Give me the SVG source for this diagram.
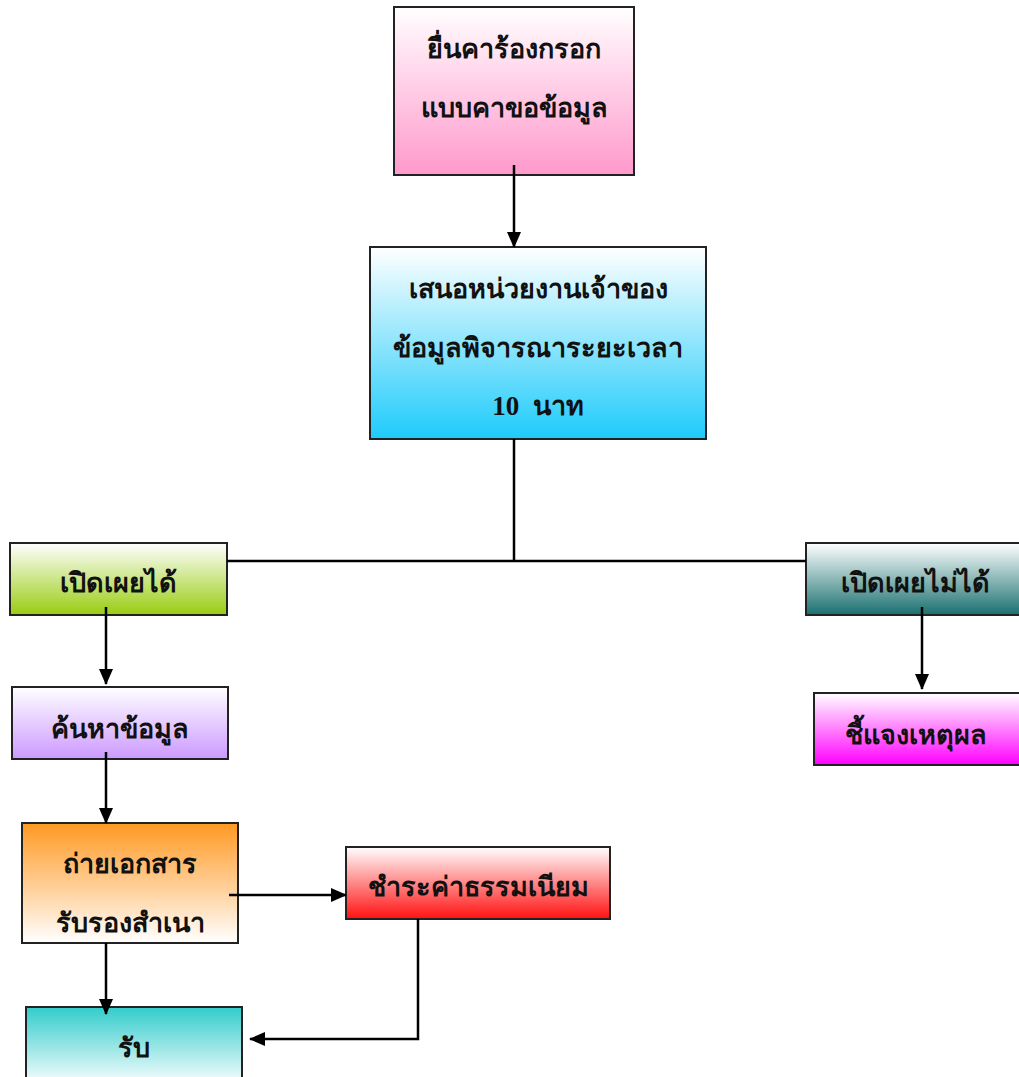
<svg xmlns="http://www.w3.org/2000/svg" width="1019" height="1077" viewBox="0 0 1019 1077">
<defs>
<linearGradient id="gPink" x1="0" y1="0" x2="0" y2="1"><stop offset="0" stop-color="#ffffff"/><stop offset="1" stop-color="#ff99cc"/></linearGradient>
<linearGradient id="gBlue" x1="0" y1="0" x2="0" y2="1"><stop offset="0" stop-color="#ffffff"/><stop offset="1" stop-color="#1ecbfb"/></linearGradient>
<linearGradient id="gGreen" x1="0" y1="0" x2="0" y2="1"><stop offset="0" stop-color="#ffffff"/><stop offset="1" stop-color="#99cc11"/></linearGradient>
<linearGradient id="gTeal" x1="0" y1="0" x2="0" y2="1"><stop offset="0" stop-color="#ffffff"/><stop offset="1" stop-color="#1a7070"/></linearGradient>
<linearGradient id="gPurple" x1="0" y1="0" x2="0" y2="1"><stop offset="0" stop-color="#ffffff"/><stop offset="1" stop-color="#cc99ff"/></linearGradient>
<linearGradient id="gOrange" x1="0" y1="0" x2="0" y2="1"><stop offset="0" stop-color="#ff9922"/><stop offset="1" stop-color="#ffffff"/></linearGradient>
<linearGradient id="gRed" x1="0" y1="0" x2="0" y2="1"><stop offset="0" stop-color="#ffffff"/><stop offset="1" stop-color="#ff1111"/></linearGradient>
<linearGradient id="gCyan" x1="0" y1="0" x2="0" y2="1"><stop offset="0" stop-color="#33cccc"/><stop offset="1" stop-color="#ffffff"/></linearGradient>
<linearGradient id="gMagenta" x1="0" y1="0" x2="0" y2="1"><stop offset="0" stop-color="#ffffff"/><stop offset="1" stop-color="#ff00ff"/></linearGradient>
<marker id="arr" markerWidth="16" markerHeight="14" refX="15" refY="7" orient="auto" markerUnits="userSpaceOnUse" viewBox="0 0 16 14">
<path d="M0,0 L16,7 L0,14 Z" fill="#000"/>
</marker>
</defs>
<style>
.box{stroke:#222;stroke-width:2}
.t{font-family:"Liberation Serif","Noto Sans",serif;font-weight:bold;font-size:27px;fill:#111;text-anchor:middle}
.pre{white-space:pre}
.c{fill:none;stroke:#000;stroke-width:2.5}
.a{fill:none;stroke:#000;stroke-width:2.5;marker-end:url(#arr)}
</style>
<rect width="1019" height="1077" fill="#ffffff"/>
<g id="n1"><rect class="box" x="394" y="7" width="240" height="168" fill="url(#gPink)"/>
<text class="t" x="514" y="58">ยื่นคาร้องกรอก</text><text class="t" x="514" y="117">แบบคาขอข้อมูล</text></g>
<g id="n2"><rect class="box" x="370" y="247" width="336" height="192" fill="url(#gBlue)"/>
<text class="t" x="538" y="298">เสนอหน่วยงานเจ้าของ</text><text class="t" x="538" y="357">ข้อมูลพิจารณาระยะเวลา</text><text class="t pre" x="538" y="415" xml:space="preserve">10  นาท</text></g>
<g id="n3"><rect class="box" x="10" y="543" width="217" height="72" fill="url(#gGreen)"/>
<text class="t" x="118" y="592">เปิดเผยได้</text></g>
<g id="n4"><rect class="box" x="806" y="543" width="220" height="72" fill="url(#gTeal)"/>
<text class="t" x="915" y="592">เปิดเผยไม่ได้</text></g>
<g id="n5"><rect class="box" x="12" y="687" width="216" height="72" fill="url(#gPurple)"/>
<text class="t" x="120" y="738">ค้นหาข้อมูล</text></g>
<g id="n6"><rect class="box" x="814" y="693" width="212" height="72" fill="url(#gMagenta)"/>
<text class="t" x="916" y="744">ชี้แจงเหตุผล</text></g>
<g id="n7"><rect class="box" x="22" y="823" width="216" height="120" fill="url(#gOrange)"/>
<text class="t" x="130" y="873">ถ่ายเอกสาร</text><text class="t" x="130" y="932">รับรองสำเนา</text></g>
<g id="n8"><rect class="box" x="346" y="847" width="264" height="72" fill="url(#gRed)"/>
<text class="t" x="478" y="896">ชำระค่าธรรมเนียม</text></g>
<g id="n9"><rect class="box" x="26" y="1007" width="216" height="80" fill="url(#gCyan)"/>
<text class="t" x="134" y="1057">รับ</text></g>
<g id="connectors">
<line class="a" x1="514" y1="165" x2="514" y2="247"/>
<polyline class="c" points="514,439 514,561"/>
<line class="c" x1="227" y1="561" x2="806" y2="561"/>
<line class="a" x1="106" y1="607" x2="106" y2="684"/>
<line class="a" x1="106" y1="752" x2="106" y2="823"/>
<line class="a" x1="229" y1="895" x2="346" y2="895"/>
<line class="a" x1="106" y1="943" x2="106" y2="1014"/>
<polyline class="a" points="418,919 418,1039 250,1039"/>
<line class="a" x1="922" y1="607" x2="922" y2="689"/>
</g>
</svg>
